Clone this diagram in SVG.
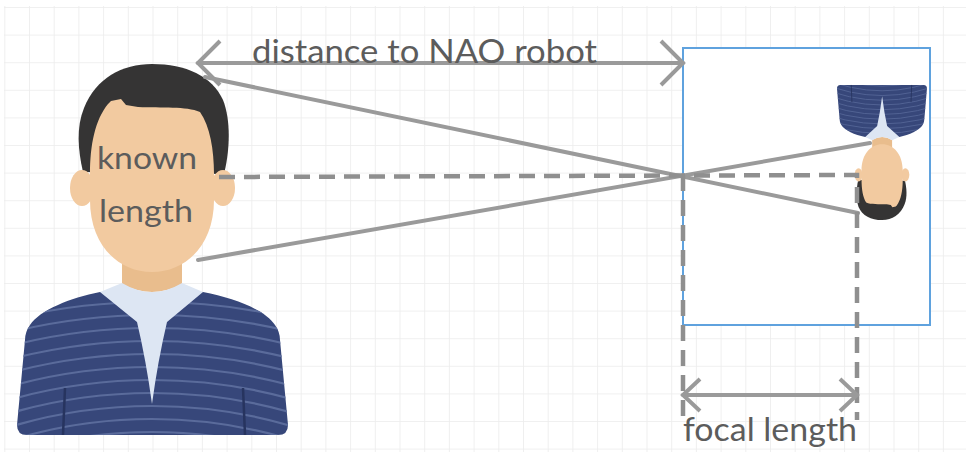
<svg xmlns="http://www.w3.org/2000/svg" xmlns:xlink="http://www.w3.org/1999/xlink" width="966" height="452" viewBox="0 0 966 452">
  <style>
    .grid { stroke: #ececec; stroke-width: 1.6; }
    .label { font-family: Lato, "Open Sans", "Liberation Sans", sans-serif; fill: #5c5c5c; }
    .solid { fill: none; stroke: #9a9a9a; stroke-width: 4; stroke-linecap: round; }
    .dash { fill: none; stroke: #8f8f8f; stroke-width: 4.5; stroke-dasharray: 16 9; }
    .stripe { fill: none; stroke: #5a6b9b; stroke-width: 2.2; }
    .frame { fill: #ffffff; stroke: #5fa2de; stroke-width: 2; }
  </style>
  <defs>
    <pattern id="gridCell" x="4.3" y="7" width="24.7" height="27.6" patternUnits="userSpaceOnUse">
      <path d="M0,0 H24.7 M0,0 V27.6" class="grid"/>
    </pattern>
    <marker id="chevL" markerUnits="userSpaceOnUse" orient="auto-start-reverse" markerWidth="30" markerHeight="50" refX="0" refY="0" viewBox="-26 -25 30 50" overflow="visible">
      <path d="M-22,-22 L0,0 L-22,22" fill="none" stroke="#9a9a9a" stroke-width="4"/>
    </marker>
    <marker id="chevS" markerUnits="userSpaceOnUse" orient="auto-start-reverse" markerWidth="24" markerHeight="40" refX="0" refY="0" viewBox="-20 -20 24 40" overflow="visible">
      <path d="M-17,-16 L0,0 L-17,16" fill="none" stroke="#9a9a9a" stroke-width="4"/>
    </marker>
    <clipPath id="bodyClip">
      <path d="M100,292 C70,298 40,310 30,325 Q25,332 25,340 L17,425 Q17,435 27,435 L278,435 Q288,435 288,425 L280,340 Q280,332 275,325 C265,310 235,298 203,292 Z"/>
    </clipPath>
    <!-- cartoon person: striped sweater, light collar, dark hair -->
    <g id="person">
      <path d="M100,292 C70,298 40,310 30,325 Q25,332 25,340 L17,425 Q17,435 27,435 L278,435 Q288,435 288,425 L280,340 Q280,332 275,325 C265,310 235,298 203,292 Z" fill="#37477a"/>
      <g clip-path="url(#bodyClip)">
        <circle cx="152" cy="900" r="598" class="stripe"/>
        <circle cx="152" cy="900" r="585" class="stripe"/>
        <circle cx="152" cy="900" r="572" class="stripe"/>
        <circle cx="152" cy="900" r="559" class="stripe"/>
        <circle cx="152" cy="900" r="546" class="stripe"/>
        <circle cx="152" cy="900" r="533" class="stripe"/>
        <circle cx="152" cy="900" r="520" class="stripe"/>
        <circle cx="152" cy="900" r="507" class="stripe"/>
        <circle cx="152" cy="900" r="494" class="stripe"/>
        <circle cx="152" cy="900" r="481" class="stripe"/>
        <circle cx="152" cy="900" r="468" class="stripe"/>
      </g>
      <path d="M65,388 L63,435 M243,388 L245,435" stroke="#27345f" stroke-width="2.5" fill="none"/>
      <path d="M122,248 L182,248 L182,284 Q152,300 122,284 Z" fill="#e9bd8d"/>
      <path d="M100,292 L122,283 Q152,301 182,283 L203,292 L167,322 Q158,360 152,404 Q146,360 137,322 Z" fill="#dde6f3"/>
      <path d="M83,172 C78,150 76,128 84,108 C96,78 122,64 152,64 C186,64 212,76 223,100 C231,120 230,150 224,174 Z" fill="#353434"/>
      <ellipse cx="82" cy="188" rx="12" ry="18" fill="#f2caa0"/>
      <ellipse cx="223" cy="188" rx="12" ry="18" fill="#f2caa0"/>
      <path d="M90,174 C90,145 95,120 108,104 L111,101 L121,99 L126,105 L138,107 C162,108 186,106 200,112 C210,126 214,150 214,174 L214,200 C214,245 186,272 152,272 C118,272 90,245 90,200 Z" fill="#f2caa0"/>
    </g>
  </defs>

  <rect width="966" height="452" fill="#ffffff"/>
  <rect x="4" y="6" width="962" height="446" fill="url(#gridCell)"/>

  <g id="person-large">
    <use xlink:href="#person"/>
    <text class="label" x="147" y="169" font-size="30" text-anchor="middle" textLength="100" lengthAdjust="spacingAndGlyphs">known</text>
    <text class="label" x="146" y="222" font-size="30" text-anchor="middle" textLength="94" lengthAdjust="spacingAndGlyphs">length</text>
  </g>

  <g id="image-plane">
    <rect class="frame" x="683" y="48" width="247" height="277"/>
  </g>

  <g id="person-image">
    <use xlink:href="#person" transform="matrix(-0.332 0 0 -0.364 932.6 243.3)"/>
  </g>

  <g id="connectors">
    <path class="solid" d="M198,63 L683,63" marker-start="url(#chevL)" marker-end="url(#chevL)"/>
    <path class="solid" d="M205,77 L858,213"/>
    <path class="solid" d="M198,260 L870,143"/>
    <path class="dash" d="M219,177 L857,175 L857,420"/>
    <path class="dash" d="M683,175 L683,420"/>
    <path class="solid" d="M683,395 L857,395" marker-start="url(#chevS)" marker-end="url(#chevS)"/>
  </g>

  <g id="labels">
    <text class="label" x="252" y="63" font-size="32" textLength="345" lengthAdjust="spacingAndGlyphs">distance to NAO robot</text>
    <text class="label" x="683" y="441" font-size="33" textLength="174" lengthAdjust="spacingAndGlyphs">focal length</text>
  </g>
</svg>
